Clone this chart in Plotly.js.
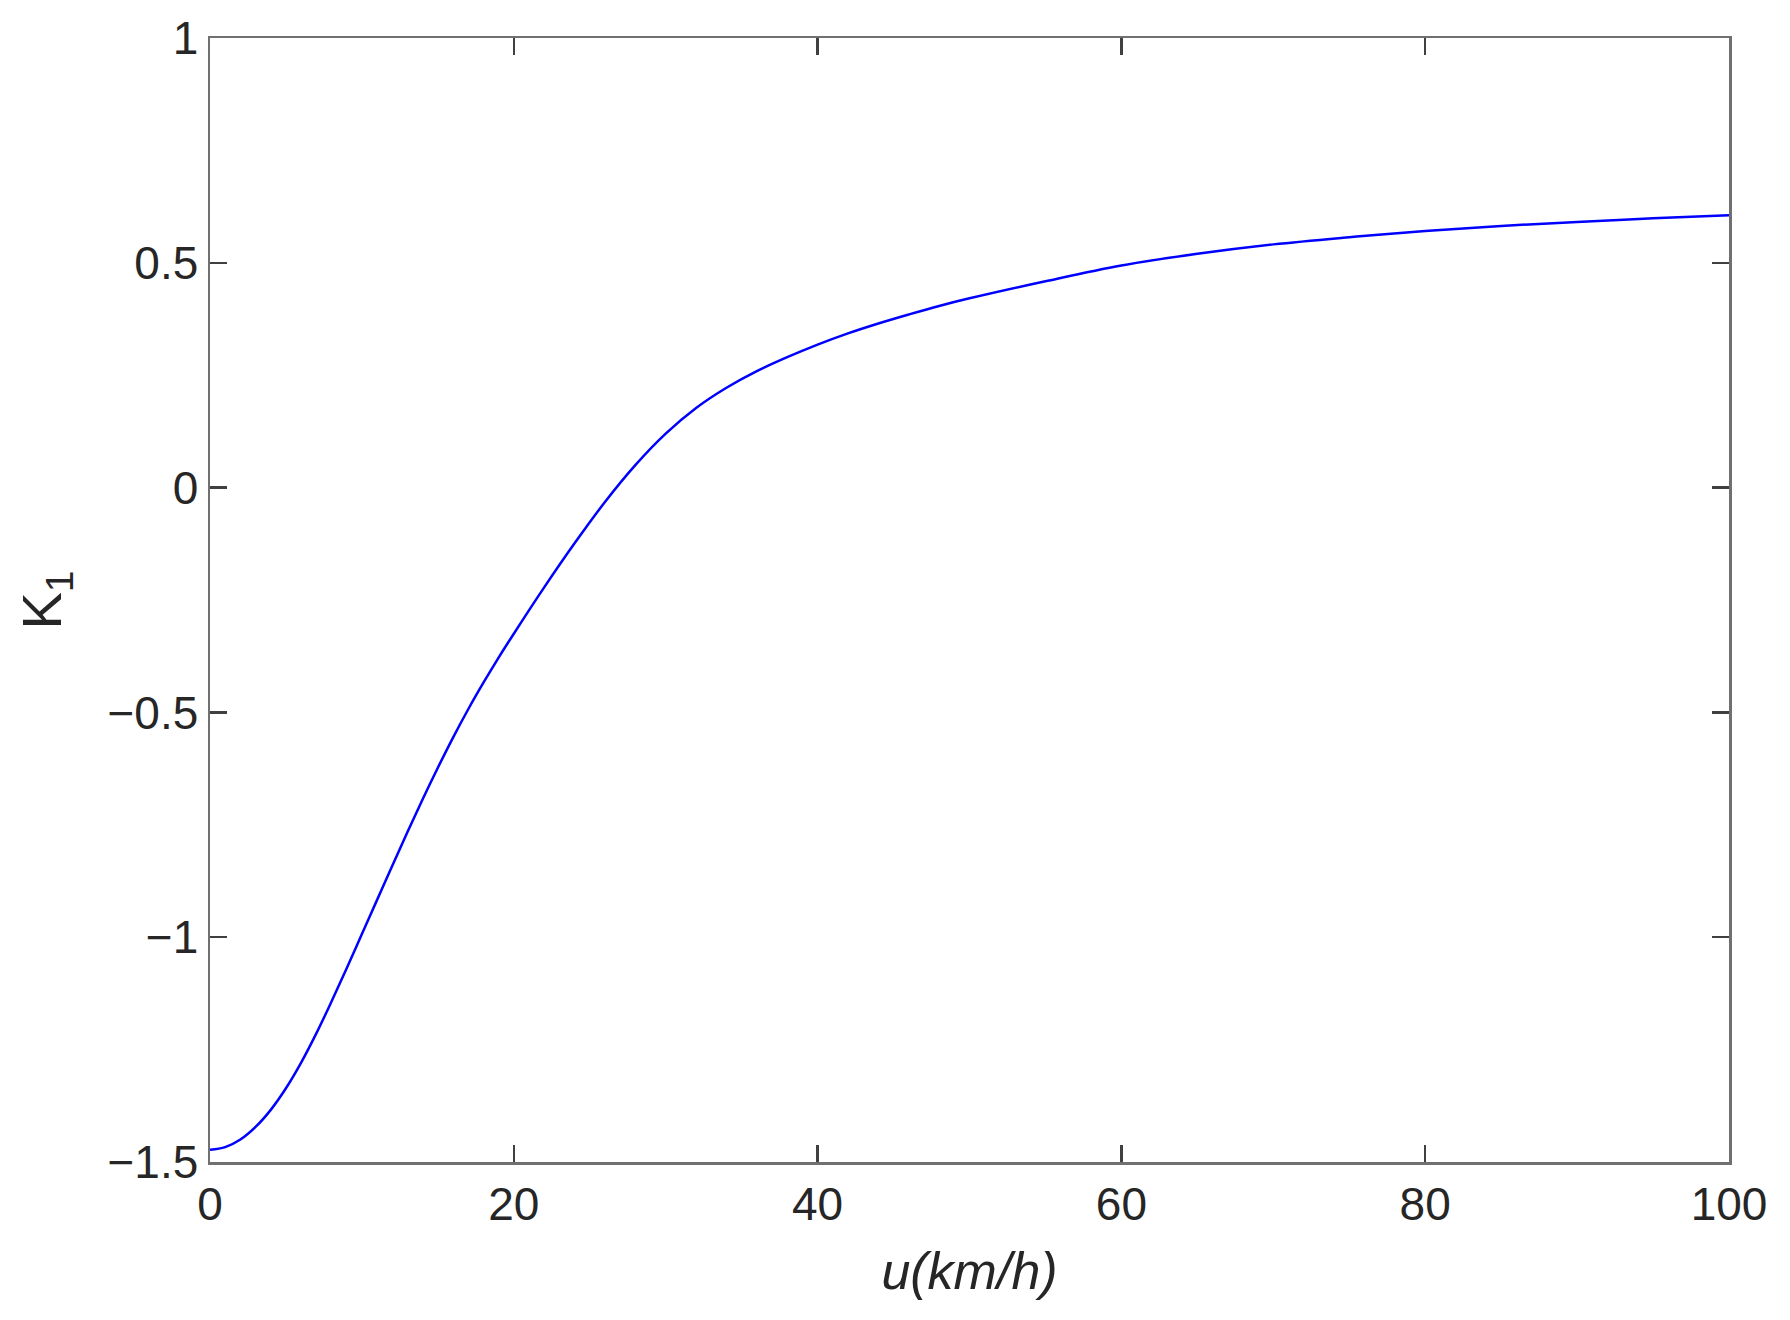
<!DOCTYPE html>
<html>
<head>
<meta charset="utf-8">
<script src="https://cdn.plot.ly/plotly-3.0.1.min.js"></script>
<style>html,body{margin:0;padding:0;background:#fff;}#chart{width:1790px;height:1320px;}</style>
</head>
<body>
<div id="chart"></div>
<script>
// speed u (km/h)
const speed = [0, 1, 2, 3, 4, 5, 6, 7, 8, 9, 10, 11, 12, 13, 14, 15, 16, 17, 18, 19, 20,
  22, 24, 26, 28, 30, 32, 34, 36, 38, 40, 42, 44, 46, 48, 50,
  55, 60, 65, 70, 75, 80, 85, 90, 95, 100];
// K1 values
const k1 = [-1.473, -1.467, -1.450, -1.422, -1.384, -1.336, -1.279, -1.214, -1.143, -1.069, -0.993,
  -0.917, -0.841, -0.766, -0.693, -0.623, -0.556, -0.493, -0.434, -0.378, -0.325,
  -0.222, -0.124, -0.032, 0.050, 0.120, 0.177, 0.222, 0.259, 0.290, 0.318, 0.343, 0.365, 0.385, 0.404, 0.421,
  0.459, 0.494, 0.520, 0.541, 0.557, 0.571, 0.582, 0.591, 0.599, 0.606];

const xTickVals = [0, 20, 40, 60, 80, 100];
const xTickText = ['0', '20', '40', '60', '80', '100'];
const yTickVals = [-1.5, -1, -0.5, 0, 0.5, 1];
const yTickText = ['\u22121.5', '\u22121', '\u22120.5', '0', '0.5', '1'];

const trace = {
  x: speed, y: k1, type: 'scatter', mode: 'lines',
  line: {color: '#0000ff', width: 2.5, shape: 'spline', smoothing: 1},
  hoverinfo: 'skip', showlegend: false
};

const axisCommon = {
  showgrid: false, zeroline: false, showline: true, mirror: 'allticks',
  linecolor: '#707070', linewidth: 2.5,
  ticks: 'inside', ticklen: 17, tickwidth: 2.5, tickcolor: '#404040',
  tickfont: {family: 'Liberation Sans, Arial, sans-serif', size: 46, color: '#262626'},
  automargin: false
};

const layout = {
  width: 1790, height: 1320,
  margin: {l: 210, r: 61, t: 38, b: 158},
  paper_bgcolor: '#ffffff', plot_bgcolor: '#ffffff',
  xaxis: Object.assign({}, axisCommon, {
    range: [0, 100], tickvals: xTickVals, ticktext: xTickText,
    title: {text: '<i>u(km/h)</i>', font: {family: 'Liberation Sans, Arial, sans-serif', size: 52, color: '#262626'}, standoff: 24}
  }),
  yaxis: Object.assign({}, axisCommon, {
    range: [-1.5, 1], tickvals: yTickVals, ticktext: yTickText,
    title: {text: 'K<sub>1</sub>', font: {family: 'Liberation Sans, Arial, sans-serif', size: 56, color: '#262626'}, standoff: 28}
  })
};

Plotly.newPlot('chart', [trace], layout, {staticPlot: true, displayModeBar: false});
</script>
</body>
</html>
